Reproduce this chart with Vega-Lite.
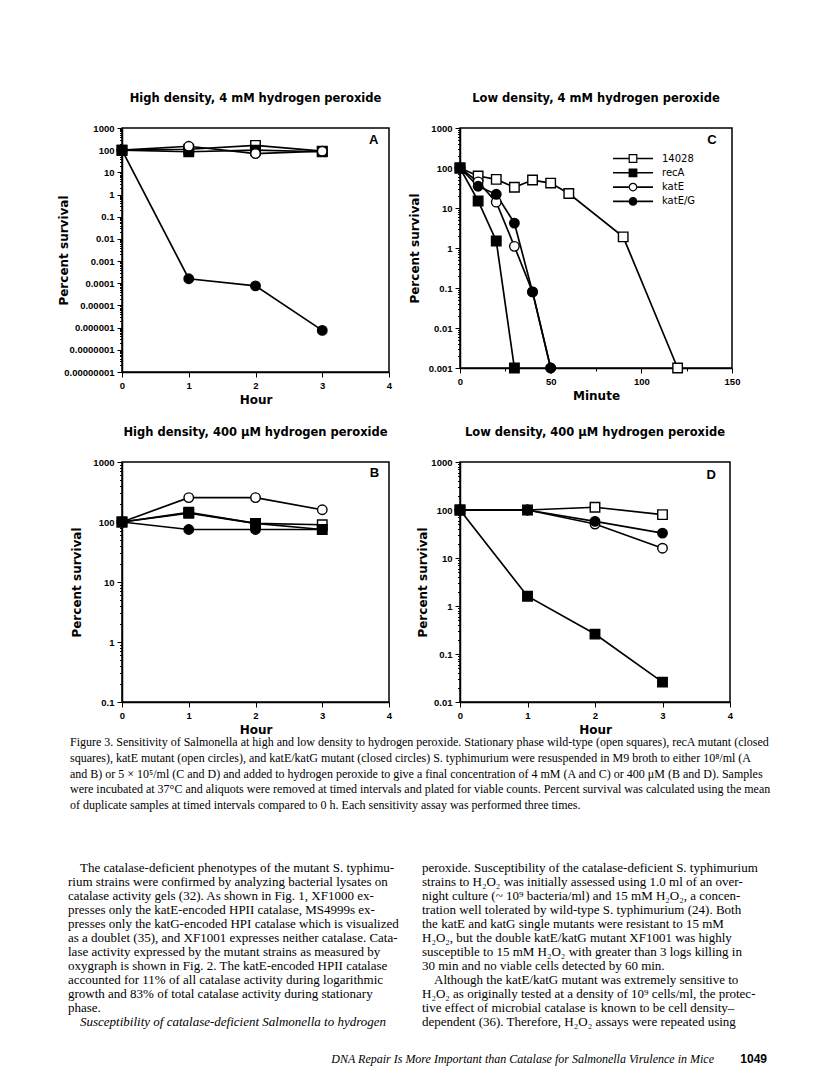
{
  "$schema": "https://vega.github.io/schema/vega-lite/v6.json",
  "padding": {"left": 56, "top": 91, "right": 5, "bottom": 5},
  "background": "white",
  "bounds": "flush",
  "align": "each",
  "columns": 2,
  "spacing": {"row": 90, "column": 71},
  "datasets": {
    "A": [
      {"series": "14028", "hour": 0, "survival": 100}, {"series": "14028", "hour": 1, "survival": 110}, {"series": "14028", "hour": 2, "survival": 165}, {"series": "14028", "hour": 3, "survival": 90},
      {"series": "recA", "hour": 0, "survival": 100}, {"series": "recA", "hour": 1, "survival": 85}, {"series": "recA", "hour": 2, "survival": 100}, {"series": "recA", "hour": 3, "survival": 85},
      {"series": "katE", "hour": 0, "survival": 100}, {"series": "katE", "hour": 1, "survival": 150}, {"series": "katE", "hour": 2, "survival": 70}, {"series": "katE", "hour": 3, "survival": 90},
      {"series": "katE/G", "hour": 0, "survival": 100}, {"series": "katE/G", "hour": 1, "survival": 0.00016}, {"series": "katE/G", "hour": 2, "survival": 0.000076}, {"series": "katE/G", "hour": 3, "survival": 0.00000075}
    ],
    "C": [
      {"series": "14028", "minute": 0, "survival": 100}, {"series": "14028", "minute": 10, "survival": 63}, {"series": "14028", "minute": 20, "survival": 52}, {"series": "14028", "minute": 30, "survival": 33}, {"series": "14028", "minute": 40, "survival": 50}, {"series": "14028", "minute": 50, "survival": 42}, {"series": "14028", "minute": 60, "survival": 23}, {"series": "14028", "minute": 90, "survival": 1.9}, {"series": "14028", "minute": 120, "survival": 0.001},
      {"series": "recA", "minute": 0, "survival": 100}, {"series": "recA", "minute": 10, "survival": 15}, {"series": "recA", "minute": 20, "survival": 1.5}, {"series": "recA", "minute": 30, "survival": 0.001},
      {"series": "katE", "minute": 0, "survival": 100}, {"series": "katE", "minute": 10, "survival": 45}, {"series": "katE", "minute": 20, "survival": 14}, {"series": "katE", "minute": 30, "survival": 1.1}, {"series": "katE", "minute": 40, "survival": 0.08}, {"series": "katE", "minute": 50, "survival": 0.001},
      {"series": "katE/G", "minute": 0, "survival": 100}, {"series": "katE/G", "minute": 10, "survival": 35}, {"series": "katE/G", "minute": 20, "survival": 22}, {"series": "katE/G", "minute": 30, "survival": 4.2}, {"series": "katE/G", "minute": 40, "survival": 0.08}, {"series": "katE/G", "minute": 50, "survival": 0.001}
    ],
    "B": [
      {"series": "14028", "hour": 0, "survival": 100}, {"series": "14028", "hour": 1, "survival": 145}, {"series": "14028", "hour": 2, "survival": 95}, {"series": "14028", "hour": 3, "survival": 90},
      {"series": "recA", "hour": 0, "survival": 100}, {"series": "recA", "hour": 1, "survival": 140}, {"series": "recA", "hour": 2, "survival": 95}, {"series": "recA", "hour": 3, "survival": 75},
      {"series": "katE", "hour": 0, "survival": 100}, {"series": "katE", "hour": 1, "survival": 255}, {"series": "katE", "hour": 2, "survival": 255}, {"series": "katE", "hour": 3, "survival": 160},
      {"series": "katE/G", "hour": 0, "survival": 100}, {"series": "katE/G", "hour": 1, "survival": 75}, {"series": "katE/G", "hour": 2, "survival": 75}, {"series": "katE/G", "hour": 3, "survival": 75}
    ],
    "D": [
      {"series": "14028", "hour": 0, "survival": 100}, {"series": "14028", "hour": 1, "survival": 100}, {"series": "14028", "hour": 2, "survival": 114}, {"series": "14028", "hour": 3, "survival": 80},
      {"series": "recA", "hour": 0, "survival": 100}, {"series": "recA", "hour": 1, "survival": 1.6}, {"series": "recA", "hour": 2, "survival": 0.26}, {"series": "recA", "hour": 3, "survival": 0.026},
      {"series": "katE", "hour": 0, "survival": 100}, {"series": "katE", "hour": 1, "survival": 100}, {"series": "katE", "hour": 2, "survival": 51}, {"series": "katE", "hour": 3, "survival": 16},
      {"series": "katE/G", "hour": 0, "survival": 100}, {"series": "katE/G", "hour": 1, "survival": 100}, {"series": "katE/G", "hour": 2, "survival": 58}, {"series": "katE/G", "hour": 3, "survival": 33}
    ],
    "text": [
      {"block": "caption", "col": 0, "line": 1, "text": "Figure 3. Sensitivity of Salmonella at high and low density to hydrogen peroxide. Stationary phase wild-type (open squares), recA mutant (closed"},
      {"block": "caption", "col": 0, "line": 2, "text": "squares), katE mutant (open circles), and katE/katG mutant (closed circles) S. typhimurium were resuspended in M9 broth to either 10⁸/ml (A"},
      {"block": "caption", "col": 0, "line": 3, "text": "and B) or 5 × 10⁵/ml (C and D) and added to hydrogen peroxide to give a final concentration of 4 mM (A and C) or 400 μM (B and D). Samples"},
      {"block": "caption", "col": 0, "line": 4, "text": "were incubated at 37°C and aliquots were removed at timed intervals and plated for viable counts. Percent survival was calculated using the mean"},
      {"block": "caption", "col": 0, "line": 5, "text": "of duplicate samples at timed intervals compared to 0 h. Each sensitivity assay was performed three times."},
      {"block": "paragraphStart", "col": 0, "line": 1, "text": "The catalase-deficient phenotypes of the mutant S. typhimu-"},
      {"block": "body", "col": 0, "line": 2, "text": "rium strains were confirmed by analyzing bacterial lysates on"},
      {"block": "body", "col": 0, "line": 3, "text": "catalase activity gels (32). As shown in Fig. 1, XF1000 ex-"},
      {"block": "body", "col": 0, "line": 4, "text": "presses only the katE-encoded HPII catalase, MS4999s ex-"},
      {"block": "body", "col": 0, "line": 5, "text": "presses only the katG-encoded HPI catalase which is visualized"},
      {"block": "body", "col": 0, "line": 6, "text": "as a doublet (35), and XF1001 expresses neither catalase. Cata-"},
      {"block": "body", "col": 0, "line": 7, "text": "lase activity expressed by the mutant strains as measured by"},
      {"block": "body", "col": 0, "line": 8, "text": "oxygraph is shown in Fig. 2. The katE-encoded HPII catalase"},
      {"block": "body", "col": 0, "line": 9, "text": "accounted for 11% of all catalase activity during logarithmic"},
      {"block": "body", "col": 0, "line": 10, "text": "growth and 83% of total catalase activity during stationary"},
      {"block": "body", "col": 0, "line": 11, "text": "phase."},
      {"block": "heading", "col": 0, "line": 12, "text": "Susceptibility of catalase-deficient Salmonella to hydrogen"},
      {"block": "body", "col": 1, "line": 1, "text": "peroxide. Susceptibility of the catalase-deficient S. typhimurium"},
      {"block": "body", "col": 1, "line": 2, "text": "strains to H₂O₂ was initially assessed using 1.0 ml of an over-"},
      {"block": "body", "col": 1, "line": 3, "text": "night culture (~ 10⁹ bacteria/ml) and 15 mM H₂O₂, a concen-"},
      {"block": "body", "col": 1, "line": 4, "text": "tration well tolerated by wild-type S. typhimurium (24). Both"},
      {"block": "body", "col": 1, "line": 5, "text": "the katE and katG single mutants were resistant to 15 mM"},
      {"block": "body", "col": 1, "line": 6, "text": "H₂O₂, but the double katE/katG mutant XF1001 was highly"},
      {"block": "body", "col": 1, "line": 7, "text": "susceptible to 15 mM H₂O₂ with greater than 3 logs killing in"},
      {"block": "body", "col": 1, "line": 8, "text": "30 min and no viable cells detected by 60 min."},
      {"block": "paragraphStart", "col": 1, "line": 9, "text": "Although the katE/katG mutant was extremely sensitive to"},
      {"block": "body", "col": 1, "line": 10, "text": "H₂O₂ as originally tested at a density of 10⁹ cells/ml, the protec-"},
      {"block": "body", "col": 1, "line": 11, "text": "tive effect of microbial catalase is known to be cell density–"},
      {"block": "body", "col": 1, "line": 12, "text": "dependent (36). Therefore, H₂O₂ assays were repeated using"},
      {"block": "runningTitle", "col": 0, "line": 1, "text": "DNA Repair Is More Important than Catalase for Salmonella Virulence in Mice"},
      {"block": "pageNumber", "col": 1, "line": 1, "text": "1049"}
    ]
  },
  "concat": [
    {
      "width": 267, "height": 244,
      "title": "High density, 4 mM hydrogen peroxide",
      "layer": [
        {"data": {"name": "A"},
          "mark": {"type": "line", "color": "black", "strokeWidth": 1.7},
          "encoding": {
            "x": {"field": "hour", "type": "quantitative", "scale": {"domain": [0, 4], "nice": false},
              "axis": {"title": "Hour", "values": [0, 0.5, 1, 1.5, 2, 2.5, 3, 3.5, 4], "labelExpr": "datum.value % 1 === 0 ? format(datum.value, 'd') : ''", "tickSize": {"condition": {"test": "datum.value % 1 === 0", "value": 5}, "value": 3}}},
            "y": {"field": "survival", "type": "quantitative", "scale": {"type": "log", "domain": [1e-8, 1000], "nice": false},
              "axis": {"title": "Percent survival", "titleX": -52, "tickCount": 20, "labelExpr": "abs(log(datum.value)/LN10 - round(log(datum.value)/LN10)) < 0.001 ? format(datum.value, '.8~f') : ''", "tickSize": {"condition": {"test": "abs(log(datum.value)/LN10 - round(log(datum.value)/LN10)) < 0.001", "value": 5}, "value": 2.5}}},
            "detail": {"field": "series"}}},
        {"data": {"name": "A"},
          "mark": {"type": "point", "filled": true, "stroke": "black", "strokeWidth": 1.4, "opacity": 1},
          "encoding": {
            "x": {"field": "hour", "type": "quantitative"},
            "y": {"field": "survival", "type": "quantitative"},
            "shape": {"field": "series", "type": "nominal", "scale": {"domain": ["14028", "recA", "katE", "katE/G"], "range": ["square", "square", "circle", "circle"]}, "legend": null},
            "fill": {"field": "series", "type": "nominal", "scale": {"domain": ["14028", "recA", "katE", "katE/G"], "range": ["white", "black", "white", "black"]}, "legend": null},
            "size": {"field": "series", "type": "nominal", "scale": {"domain": ["14028", "recA", "katE", "katE/G"], "range": [90, 90, 80, 80]}, "legend": null}
          }},
        {"data": {"values": [{"panel": "A"}]},
          "mark": {"type": "text", "font": "Liberation Sans", "fontWeight": "bold", "fontSize": 13, "color": "black", "align": "center", "baseline": "middle"},
          "encoding": {"text": {"field": "panel"}, "x": {"datum": 3.77}, "y": {"datum": 290}}}
      ]
    },
    {
      "width": 272, "height": 240,
      "title": "Low density, 4 mM hydrogen peroxide",
      "layer": [
        {"data": {"name": "C"},
          "mark": {"type": "line", "color": "black", "strokeWidth": 1.7},
          "encoding": {
            "x": {"field": "minute", "type": "quantitative", "scale": {"domain": [0, 150], "nice": false},
              "axis": {"title": "Minute", "values": [0, 25, 50, 75, 100, 125, 150], "labelExpr": "datum.value % 50 === 0 ? format(datum.value, 'd') : ''", "tickSize": {"condition": {"test": "datum.value % 50 === 0", "value": 5}, "value": 3}}},
            "y": {"field": "survival", "type": "quantitative", "scale": {"type": "log", "domain": [0.001, 1000], "nice": false},
              "axis": {"title": "Percent survival", "titleX": -39, "tickCount": 20, "labelExpr": "abs(log(datum.value)/LN10 - round(log(datum.value)/LN10)) < 0.001 ? format(datum.value, '.8~f') : ''", "tickSize": {"condition": {"test": "abs(log(datum.value)/LN10 - round(log(datum.value)/LN10)) < 0.001", "value": 5}, "value": 2.5}}},
            "detail": {"field": "series"}}},
        {"data": {"name": "C"},
          "mark": {"type": "point", "filled": true, "stroke": "black", "strokeWidth": 1.4, "opacity": 1},
          "encoding": {
            "x": {"field": "minute", "type": "quantitative"},
            "y": {"field": "survival", "type": "quantitative"},
            "shape": {"field": "series", "type": "nominal", "scale": {"domain": ["14028", "recA", "katE", "katE/G"], "range": ["square", "square", "circle", "circle"]}, "legend": null},
            "fill": {"field": "series", "type": "nominal", "scale": {"domain": ["14028", "recA", "katE", "katE/G"], "range": ["white", "black", "white", "black"]}, "legend": null},
            "size": {"field": "series", "type": "nominal", "scale": {"domain": ["14028", "recA", "katE", "katE/G"], "range": [90, 90, 80, 80]}, "legend": null}
          }},
        {"data": {"name": "C"},
          "transform": [{"filter": "false"}],
          "mark": {"type": "point", "filled": true, "color": "black", "strokeWidth": 0},
          "encoding": {
            "x": {"field": "minute", "type": "quantitative"},
            "y": {"field": "survival", "type": "quantitative"},
            "shape": {"field": "series", "type": "nominal",
              "scale": {"domain": ["14028", "recA", "katE", "katE/G"],
                "range": [
                  "M-1,-0.04L-0.22,-0.04L-0.22,0.04L-1,0.04Z M0.22,-0.04L1,-0.04L1,0.04L0.22,0.04Z M-0.22,-0.22L0.22,-0.22L0.22,0.22L-0.22,0.22Z M-0.16,-0.16L-0.16,0.16L0.16,0.16L0.16,-0.16Z",
                  "M-1,-0.04L-0.22,-0.04L-0.22,0.04L-1,0.04Z M0.22,-0.04L1,-0.04L1,0.04L0.22,0.04Z M-0.22,-0.22L0.22,-0.22L0.22,0.22L-0.22,0.22Z",
                  "M-1,-0.04L-0.22,-0.04L-0.22,0.04L-1,0.04Z M0.22,-0.04L1,-0.04L1,0.04L0.22,0.04Z M-0.22,0A0.22,0.22,0,1,1,0.22,0A0.22,0.22,0,1,1,-0.22,0Z M-0.16,0A0.16,0.16,0,1,0,0.16,0A0.16,0.16,0,1,0,-0.16,0Z",
                  "M-1,-0.04L-0.22,-0.04L-0.22,0.04L-1,0.04Z M0.22,-0.04L1,-0.04L1,0.04L0.22,0.04Z M-0.22,0A0.22,0.22,0,1,1,0.22,0A0.22,0.22,0,1,1,-0.22,0Z"
                ]},
              "legend": {"title": null, "orient": "none", "legendX": 153, "legendY": 25, "symbolSize": 1600, "clipHeight": 11, "symbolFillColor": "black", "symbolStrokeWidth": 0, "symbolOpacity": 1, "labelOffset": 9, "labelFont": "DejaVu Sans", "labelFontSize": 10, "labelColor": "black", "rowPadding": 3.3, "padding": 0}}
          }},
        {"data": {"values": [{"panel": "C"}]},
          "mark": {"type": "text", "font": "Liberation Sans", "fontWeight": "bold", "fontSize": 13, "color": "black", "align": "center", "baseline": "middle"},
          "encoding": {"text": {"field": "panel"}, "x": {"datum": 139}, "y": {"datum": 500}}}
      ],
      "resolve": {"scale": {"shape": "independent"}}
    },
    {
      "width": 267, "height": 240,
      "title": "High density, 400 μM hydrogen peroxide",
      "layer": [
        {"data": {"name": "B"},
          "mark": {"type": "line", "color": "black", "strokeWidth": 1.7},
          "encoding": {
            "x": {"field": "hour", "type": "quantitative", "scale": {"domain": [0, 4], "nice": false},
              "axis": {"title": "Hour", "values": [0, 0.5, 1, 1.5, 2, 2.5, 3, 3.5, 4], "labelExpr": "datum.value % 1 === 0 ? format(datum.value, 'd') : ''", "tickSize": {"condition": {"test": "datum.value % 1 === 0", "value": 5}, "value": 3}}},
            "y": {"field": "survival", "type": "quantitative", "scale": {"type": "log", "domain": [0.1, 1000], "nice": false},
              "axis": {"title": "Percent survival", "titleX": -39, "tickCount": 20, "labelExpr": "abs(log(datum.value)/LN10 - round(log(datum.value)/LN10)) < 0.001 ? format(datum.value, '.8~f') : ''", "tickSize": {"condition": {"test": "abs(log(datum.value)/LN10 - round(log(datum.value)/LN10)) < 0.001", "value": 5}, "value": 2.5}}},
            "detail": {"field": "series"}}},
        {"data": {"name": "B"},
          "mark": {"type": "point", "filled": true, "stroke": "black", "strokeWidth": 1.4, "opacity": 1},
          "encoding": {
            "x": {"field": "hour", "type": "quantitative"},
            "y": {"field": "survival", "type": "quantitative"},
            "shape": {"field": "series", "type": "nominal", "scale": {"domain": ["14028", "recA", "katE", "katE/G"], "range": ["square", "square", "circle", "circle"]}, "legend": null},
            "fill": {"field": "series", "type": "nominal", "scale": {"domain": ["14028", "recA", "katE", "katE/G"], "range": ["white", "black", "white", "black"]}, "legend": null},
            "size": {"field": "series", "type": "nominal", "scale": {"domain": ["14028", "recA", "katE", "katE/G"], "range": [90, 90, 80, 80]}, "legend": null}
          }},
        {"data": {"values": [{"panel": "B"}]},
          "mark": {"type": "text", "font": "Liberation Sans", "fontWeight": "bold", "fontSize": 13, "color": "black", "align": "center", "baseline": "middle"},
          "encoding": {"text": {"field": "panel"}, "x": {"datum": 3.78}, "y": {"datum": 660}}}
      ]
    },
    {
      "width": 270, "height": 240,
      "title": "Low density, 400 μM hydrogen peroxide",
      "layer": [
        {"data": {"name": "D"},
          "mark": {"type": "line", "color": "black", "strokeWidth": 1.7},
          "encoding": {
            "x": {"field": "hour", "type": "quantitative", "scale": {"domain": [0, 4], "nice": false},
              "axis": {"title": "Hour", "values": [0, 0.5, 1, 1.5, 2, 2.5, 3, 3.5, 4], "labelExpr": "datum.value % 1 === 0 ? format(datum.value, 'd') : ''", "tickSize": {"condition": {"test": "datum.value % 1 === 0", "value": 5}, "value": 3}}},
            "y": {"field": "survival", "type": "quantitative", "scale": {"type": "log", "domain": [0.01, 1000], "nice": false},
              "axis": {"title": "Percent survival", "titleX": -31, "tickCount": 20, "labelExpr": "abs(log(datum.value)/LN10 - round(log(datum.value)/LN10)) < 0.001 ? format(datum.value, '.8~f') : ''", "tickSize": {"condition": {"test": "abs(log(datum.value)/LN10 - round(log(datum.value)/LN10)) < 0.001", "value": 5}, "value": 2.5}}},
            "detail": {"field": "series"}}},
        {"data": {"name": "D"},
          "mark": {"type": "point", "filled": true, "stroke": "black", "strokeWidth": 1.4, "opacity": 1},
          "encoding": {
            "x": {"field": "hour", "type": "quantitative"},
            "y": {"field": "survival", "type": "quantitative"},
            "shape": {"field": "series", "type": "nominal", "scale": {"domain": ["14028", "recA", "katE", "katE/G"], "range": ["square", "square", "circle", "circle"]}, "legend": null},
            "fill": {"field": "series", "type": "nominal", "scale": {"domain": ["14028", "recA", "katE", "katE/G"], "range": ["white", "black", "white", "black"]}, "legend": null},
            "size": {"field": "series", "type": "nominal", "scale": {"domain": ["14028", "recA", "katE", "katE/G"], "range": [90, 90, 80, 80]}, "legend": null}
          }},
        {"data": {"values": [{"panel": "D"}]},
          "mark": {"type": "text", "font": "Liberation Sans", "fontWeight": "bold", "fontSize": 13, "color": "black", "align": "center", "baseline": "middle"},
          "encoding": {"text": {"field": "panel"}, "x": {"datum": 3.72}, "y": {"datum": 540}}}
      ]
    },
    {
      "width": 267, "height": 270,
      "view": {"stroke": null},
      "data": {"name": "text"},
      "layer": [
        {"transform": [{"filter": "datum.block === 'caption'"}],
          "mark": {"type": "text", "align": "left", "baseline": "middle", "font": "Liberation Serif", "fontSize": 12, "color": "black"},
          "encoding": {"text": {"field": "text"},
            "x": {"field": "col", "type": "quantitative", "scale": {"domain": [0, 1], "range": [-52, 302]}, "axis": null},
            "y": {"field": "line", "type": "quantitative", "scale": {"domain": [1, 5], "range": [-50, 13]}, "axis": null}}},
        {"transform": [{"filter": "datum.block === 'body'"}],
          "mark": {"type": "text", "align": "left", "baseline": "middle", "font": "Liberation Serif", "fontSize": 13, "color": "black"},
          "encoding": {"text": {"field": "text"},
            "x": {"field": "col", "type": "quantitative", "scale": {"domain": [0, 1], "range": [-54, 300]}, "axis": null},
            "y": {"field": "line", "type": "quantitative", "scale": {"domain": [1, 12], "range": [76, 230]}, "axis": null}}},
        {"transform": [{"filter": "datum.block === 'paragraphStart'"}],
          "mark": {"type": "text", "align": "left", "baseline": "middle", "font": "Liberation Serif", "fontSize": 13, "color": "black", "dx": 12},
          "encoding": {"text": {"field": "text"},
            "x": {"field": "col", "type": "quantitative", "scale": {"domain": [0, 1], "range": [-54, 300]}, "axis": null},
            "y": {"field": "line", "type": "quantitative", "scale": {"domain": [1, 12], "range": [76, 230]}, "axis": null}}},
        {"transform": [{"filter": "datum.block === 'heading'"}],
          "mark": {"type": "text", "align": "left", "baseline": "middle", "font": "Liberation Serif", "fontStyle": "italic", "fontSize": 13, "color": "black", "dx": 12},
          "encoding": {"text": {"field": "text"},
            "x": {"field": "col", "type": "quantitative", "scale": {"domain": [0, 1], "range": [-54, 300]}, "axis": null},
            "y": {"field": "line", "type": "quantitative", "scale": {"domain": [1, 12], "range": [76, 230]}, "axis": null}}},
        {"transform": [{"filter": "datum.block === 'runningTitle'"}],
          "mark": {"type": "text", "align": "right", "baseline": "middle", "font": "Liberation Serif", "fontStyle": "italic", "fontSize": 12, "color": "black"},
          "encoding": {"text": {"field": "text"},
            "x": {"field": "col", "type": "quantitative", "scale": {"domain": [0, 1], "range": [592, 645]}, "axis": null},
            "y": {"field": "line", "type": "quantitative", "scale": {"domain": [0, 1], "range": [0, 267]}, "axis": null}}},
        {"transform": [{"filter": "datum.block === 'pageNumber'"}],
          "mark": {"type": "text", "align": "right", "baseline": "middle", "font": "Liberation Sans", "fontWeight": "bold", "fontSize": 12, "color": "black"},
          "encoding": {"text": {"field": "text"},
            "x": {"field": "col", "type": "quantitative", "scale": {"domain": [0, 1], "range": [592, 645]}, "axis": null},
            "y": {"field": "line", "type": "quantitative", "scale": {"domain": [0, 1], "range": [0, 267]}, "axis": null}}}
      ],
      "resolve": {"scale": {"x": "independent", "y": "independent"}}
    }
  ],
  "config": {
    "view": {"stroke": "black", "strokeWidth": 1.5},
    "axis": {"domainColor": "black", "domainWidth": 1.5, "tickColor": "black", "tickWidth": 1, "labelColor": "black", "titleColor": "black",
      "labelFont": "Liberation Sans", "labelFontSize": 9.5, "labelFontWeight": "bold", "titleFont": "DejaVu Sans", "titleFontSize": 12, "titleFontWeight": "bold",
      "grid": false, "labelFlush": false, "labelOverlap": false, "labelPadding": 3, "titlePadding": 5},
    "title": {"font": "DejaVu Sans", "fontSize": 11.5, "fontWeight": "bold", "color": "black", "anchor": "middle", "offset": 19}
  }
}
